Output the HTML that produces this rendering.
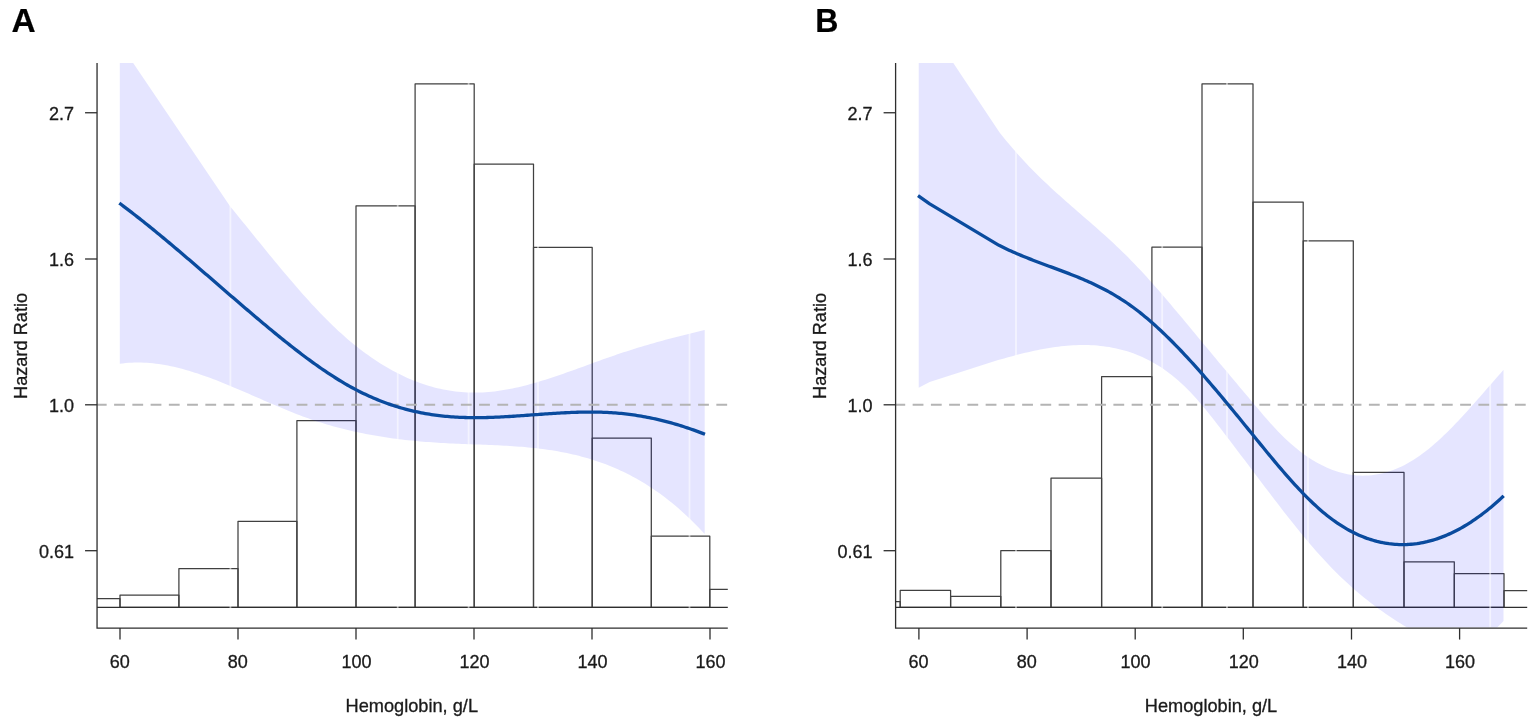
<!DOCTYPE html>
<html lang="en">
<head>
<meta charset="utf-8">
<title>Hazard Ratio by Hemoglobin</title>
<style>
html,body{margin:0;padding:0;background:#fff;}
body{width:1535px;height:723px;overflow:hidden;}
svg{display:block;font-family:"Liberation Sans",Arial,Helvetica,sans-serif;}
text{stroke:#1a1a1a;stroke-width:0.3px;}
text.t{stroke:#000;stroke-width:0.2px;}
</style>
</head>
<body>
<svg width="1535" height="723" viewBox="0 0 1535 723">
<rect width="1535" height="723" fill="#fff"/>
<clipPath id="clip1"><rect x="97.05" y="63.00" width="630.75" height="564.50"/></clipPath>
<path d="M97.00 598.70H120.00V607.35" fill="none" stroke="#404040" stroke-width="1.25" stroke-linejoin="round"/>
<rect x="120.00" y="595.10" width="58.90" height="12.25" fill="none" stroke="#404040" stroke-width="1.25" stroke-linejoin="round"/>
<rect x="178.90" y="568.60" width="59.10" height="38.75" fill="none" stroke="#404040" stroke-width="1.25" stroke-linejoin="round"/>
<rect x="238.00" y="521.30" width="58.90" height="86.05" fill="none" stroke="#404040" stroke-width="1.25" stroke-linejoin="round"/>
<rect x="296.90" y="420.60" width="59.10" height="186.75" fill="none" stroke="#404040" stroke-width="1.25" stroke-linejoin="round"/>
<rect x="356.00" y="205.90" width="59.10" height="401.45" fill="none" stroke="#404040" stroke-width="1.25" stroke-linejoin="round"/>
<rect x="415.10" y="83.90" width="59.10" height="523.45" fill="none" stroke="#404040" stroke-width="1.25" stroke-linejoin="round"/>
<rect x="474.20" y="164.10" width="59.30" height="443.25" fill="none" stroke="#404040" stroke-width="1.25" stroke-linejoin="round"/>
<rect x="533.50" y="247.40" width="58.70" height="359.95" fill="none" stroke="#404040" stroke-width="1.25" stroke-linejoin="round"/>
<rect x="592.20" y="438.00" width="59.10" height="169.35" fill="none" stroke="#404040" stroke-width="1.25" stroke-linejoin="round"/>
<rect x="651.30" y="536.20" width="58.50" height="71.15" fill="none" stroke="#404040" stroke-width="1.25" stroke-linejoin="round"/>
<path d="M709.80 607.35V589.40H727.80" fill="none" stroke="#404040" stroke-width="1.25" stroke-linejoin="round"/>
<line x1="97.05" y1="607.35" x2="727.80" y2="607.35" stroke="#2e2e2e" stroke-width="1.3"/>
<polygon clip-path="url(#clip1)" points="119.80,43.20 230.40,206.70 233.40,210.36 236.40,214.03 239.40,217.71 242.40,221.40 245.40,225.10 248.40,228.81 251.40,232.51 254.40,236.22 257.40,239.92 260.40,243.62 263.40,247.31 266.40,250.99 269.40,254.66 272.40,258.32 275.40,261.96 278.40,265.59 281.40,269.19 284.40,272.77 287.40,276.33 290.40,279.86 293.40,283.36 296.40,286.83 299.40,290.27 302.40,293.67 305.40,297.03 308.40,300.36 311.40,303.64 314.40,306.87 317.40,310.06 320.40,313.20 323.40,316.29 326.40,319.32 329.40,322.30 332.40,325.22 335.40,328.08 338.40,330.88 341.40,333.61 344.40,336.28 347.40,338.89 350.40,341.43 353.40,343.91 356.40,346.33 359.40,348.68 362.40,350.97 365.40,353.20 368.40,355.37 371.40,357.47 374.40,359.51 377.40,361.49 380.40,363.41 383.40,365.26 386.40,367.05 389.40,368.78 392.40,370.45 395.40,372.06 398.40,373.61 401.40,375.09 404.40,376.51 407.40,377.88 410.40,379.18 413.40,380.42 416.40,381.60 419.40,382.72 422.40,383.77 425.40,384.77 428.40,385.71 431.40,386.59 434.40,387.40 437.40,388.16 440.40,388.86 443.40,389.50 446.40,390.07 449.40,390.59 452.40,391.05 455.40,391.45 458.40,391.79 461.40,392.07 464.40,392.30 467.40,392.46 470.40,392.57 473.40,392.61 476.40,392.60 479.40,392.53 482.40,392.41 485.40,392.23 488.40,392.00 491.40,391.72 494.40,391.38 497.40,391.00 500.40,390.58 503.40,390.11 506.40,389.59 509.40,389.04 512.40,388.44 515.40,387.81 518.40,387.13 521.40,386.43 524.40,385.69 527.40,384.91 530.40,384.11 533.40,383.27 536.40,382.41 539.40,381.53 542.40,380.61 545.40,379.68 548.40,378.72 551.40,377.75 554.40,376.75 557.40,375.74 560.40,374.71 563.40,373.67 566.40,372.62 569.40,371.55 572.40,370.48 575.40,369.40 578.40,368.32 581.40,367.23 584.40,366.13 587.40,365.04 590.40,363.95 593.40,362.85 596.40,361.76 599.40,360.68 602.40,359.60 605.40,358.53 608.40,357.48 611.40,356.43 614.40,355.39 617.40,354.37 620.40,353.36 623.40,352.37 626.40,351.40 629.40,350.43 632.40,349.48 635.40,348.55 638.40,347.62 641.40,346.71 644.40,345.82 647.40,344.93 650.40,344.06 653.40,343.20 656.40,342.35 659.40,341.51 662.40,340.68 665.40,339.86 668.40,339.05 671.40,338.25 674.40,337.46 677.40,336.68 680.40,335.91 683.40,335.15 686.40,334.40 689.40,333.65 692.40,332.91 695.40,332.18 698.40,331.45 701.40,330.74 704.40,330.02 704.70,329.95 704.70,534.03 701.80,530.90 698.80,527.74 695.80,524.66 692.80,521.67 689.80,518.75 686.80,515.90 683.80,513.14 680.80,510.45 677.80,507.83 674.80,505.28 671.80,502.81 668.80,500.41 665.80,498.07 662.80,495.81 659.80,493.61 656.80,491.48 653.80,489.42 650.80,487.42 647.80,485.48 644.80,483.60 641.80,481.78 638.80,480.03 635.80,478.33 632.80,476.69 629.80,475.11 626.80,473.59 623.80,472.11 620.80,470.69 617.80,469.33 614.80,468.01 611.80,466.75 608.80,465.53 605.80,464.37 602.80,463.25 599.80,462.17 596.80,461.14 593.80,460.16 590.80,459.21 587.80,458.31 584.80,457.45 581.80,456.63 578.80,455.85 575.80,455.10 572.80,454.40 569.80,453.72 566.80,453.08 563.80,452.48 560.80,451.90 557.80,451.36 554.80,450.85 551.80,450.36 548.80,449.90 545.80,449.47 542.80,449.07 539.80,448.69 536.80,448.33 533.80,448.00 530.80,447.69 527.80,447.39 524.80,447.12 521.80,446.87 518.80,446.63 515.80,446.41 512.80,446.20 509.80,446.01 506.80,445.83 503.80,445.66 500.80,445.50 497.80,445.35 494.80,445.21 491.80,445.08 488.80,444.95 485.80,444.83 482.80,444.71 479.80,444.60 476.80,444.49 473.80,444.38 470.80,444.26 467.80,444.15 464.80,444.04 461.80,443.92 458.80,443.80 455.80,443.67 452.80,443.54 449.80,443.40 446.80,443.25 443.80,443.09 440.80,442.91 437.80,442.73 434.80,442.54 431.80,442.33 428.80,442.12 425.80,441.88 422.80,441.64 419.80,441.38 416.80,441.11 413.80,440.82 410.80,440.52 407.80,440.21 404.80,439.88 401.80,439.53 398.80,439.16 395.80,438.78 392.80,438.38 389.80,437.97 386.80,437.53 383.80,437.08 380.80,436.61 377.80,436.12 374.80,435.61 371.80,435.08 368.80,434.53 365.80,433.96 362.80,433.37 359.80,432.75 356.80,432.12 353.80,431.46 350.80,430.78 347.80,430.07 344.80,429.34 341.80,428.59 338.80,427.81 335.80,427.01 332.80,426.18 329.80,425.33 326.80,424.45 323.80,423.55 320.80,422.62 317.80,421.66 314.80,420.67 311.80,419.66 308.80,418.62 305.80,417.54 302.80,416.44 299.80,415.32 296.80,414.17 293.80,413.00 290.80,411.81 287.80,410.59 284.80,409.37 281.80,408.12 278.80,406.86 275.80,405.59 272.80,404.31 269.80,403.02 266.80,401.72 263.80,400.41 260.80,399.10 257.80,397.79 254.80,396.48 251.80,395.17 248.80,393.86 245.80,392.55 242.80,391.25 239.80,389.96 236.80,388.68 233.80,387.41 230.80,386.15 227.80,384.91 224.80,383.68 221.80,382.47 218.80,381.28 215.80,380.11 212.80,378.96 209.80,377.84 206.80,376.74 203.80,375.67 200.80,374.63 197.80,373.62 194.80,372.65 191.80,371.70 188.80,370.80 185.80,369.93 182.80,369.10 179.80,368.31 176.80,367.57 173.80,366.87 170.80,366.21 167.80,365.61 164.80,365.05 161.80,364.54 158.80,364.09 155.80,363.69 152.80,363.35 149.80,363.06 146.80,362.84 143.80,362.67 140.80,362.57 137.80,362.53 134.80,362.56 131.80,362.66 128.80,362.83 125.80,363.06 122.80,363.38 119.80,363.76" fill="rgba(0,0,255,0.10)"/>
<line x1="230.40" y1="63.00" x2="230.40" y2="627.50" stroke="#fff" stroke-opacity="0.55" stroke-width="1.8"/>
<line x1="397.70" y1="63.00" x2="397.70" y2="627.50" stroke="#fff" stroke-opacity="0.55" stroke-width="1.8"/>
<line x1="468.60" y1="63.00" x2="468.60" y2="627.50" stroke="#fff" stroke-opacity="0.55" stroke-width="1.8"/>
<line x1="538.00" y1="63.00" x2="538.00" y2="627.50" stroke="#fff" stroke-opacity="0.55" stroke-width="1.8"/>
<line x1="689.50" y1="63.00" x2="689.50" y2="627.50" stroke="#fff" stroke-opacity="0.55" stroke-width="1.8"/>
<line x1="97.05" y1="404.80" x2="727.80" y2="404.80" stroke="#b4b4b4" stroke-width="2" stroke-dasharray="10.8 7.45" stroke-dashoffset="1.2"/>
<polyline points="119.30,203.06 121.30,204.55 123.30,206.06 125.30,207.57 127.30,209.09 129.30,210.62 131.30,212.16 133.30,213.71 135.30,215.27 137.30,216.84 139.30,218.41 141.30,219.99 143.30,221.58 145.30,223.18 147.30,224.79 149.30,226.40 151.30,228.02 153.30,229.65 155.30,231.28 157.30,232.92 159.30,234.57 161.30,236.22 163.30,237.88 165.30,239.54 167.30,241.21 169.30,242.88 171.30,244.56 173.30,246.24 175.30,247.93 177.30,249.62 179.30,251.32 181.30,253.02 183.30,254.72 185.30,256.43 187.30,258.14 189.30,259.85 191.30,261.57 193.30,263.29 195.30,265.01 197.30,266.73 199.30,268.45 201.30,270.18 203.30,271.91 205.30,273.64 207.30,275.37 209.30,277.10 211.30,278.83 213.30,280.56 215.30,282.30 217.30,284.03 219.30,285.76 221.30,287.49 223.30,289.23 225.30,290.96 227.30,292.69 229.30,294.42 231.30,296.14 233.30,297.87 235.30,299.59 237.30,301.31 239.30,303.03 241.30,304.75 243.30,306.46 245.30,308.18 247.30,309.88 249.30,311.59 251.30,313.29 253.30,314.99 255.30,316.68 257.30,318.37 259.30,320.06 261.30,321.74 263.30,323.41 265.30,325.08 267.30,326.75 269.30,328.41 271.30,330.06 273.30,331.71 275.30,333.35 277.30,334.99 279.30,336.62 281.30,338.24 283.30,339.85 285.30,341.46 287.30,343.05 289.30,344.64 291.30,346.22 293.30,347.78 295.30,349.34 297.30,350.89 299.30,352.43 301.30,353.95 303.30,355.46 305.30,356.96 307.30,358.45 309.30,359.93 311.30,361.39 313.30,362.84 315.30,364.27 317.30,365.69 319.30,367.09 321.30,368.48 323.30,369.85 325.30,371.21 327.30,372.55 329.30,373.87 331.30,375.18 333.30,376.47 335.30,377.74 337.30,378.99 339.30,380.22 341.30,381.44 343.30,382.63 345.30,383.80 347.30,384.96 349.30,386.09 351.30,387.20 353.30,388.29 355.30,389.36 357.30,390.40 359.30,391.42 361.30,392.42 363.30,393.40 365.30,394.35 367.30,395.29 369.30,396.20 371.30,397.09 373.30,397.96 375.30,398.81 377.30,399.63 379.30,400.44 381.30,401.22 383.30,401.99 385.30,402.73 387.30,403.46 389.30,404.16 391.30,404.84 393.30,405.51 395.30,406.15 397.30,406.77 399.30,407.38 401.30,407.96 403.30,408.53 405.30,409.08 407.30,409.61 409.30,410.12 411.30,410.61 413.30,411.08 415.30,411.54 417.30,411.97 419.30,412.39 421.30,412.79 423.30,413.18 425.30,413.55 427.30,413.89 429.30,414.23 431.30,414.54 433.30,414.84 435.30,415.12 437.30,415.39 439.30,415.64 441.30,415.87 443.30,416.09 445.30,416.29 447.30,416.48 449.30,416.65 451.30,416.80 453.30,416.95 455.30,417.07 457.30,417.19 459.30,417.29 461.30,417.37 463.30,417.45 465.30,417.51 467.30,417.56 469.30,417.60 471.30,417.63 473.30,417.64 475.30,417.65 477.30,417.65 479.30,417.63 481.30,417.61 483.30,417.58 485.30,417.53 487.30,417.49 489.30,417.43 491.30,417.36 493.30,417.29 495.30,417.21 497.30,417.12 499.30,417.03 501.30,416.93 503.30,416.83 505.30,416.72 507.30,416.60 509.30,416.48 511.30,416.36 513.30,416.23 515.30,416.10 517.30,415.97 519.30,415.83 521.30,415.69 523.30,415.55 525.30,415.41 527.30,415.26 529.30,415.12 531.30,414.97 533.30,414.83 535.30,414.68 537.30,414.53 539.30,414.39 541.30,414.25 543.30,414.10 545.30,413.96 547.30,413.83 549.30,413.69 551.30,413.56 553.30,413.43 555.30,413.30 557.30,413.18 559.30,413.06 561.30,412.95 563.30,412.84 565.30,412.74 567.30,412.64 569.30,412.55 571.30,412.47 573.30,412.39 575.30,412.32 577.30,412.26 579.30,412.20 581.30,412.15 583.30,412.11 585.30,412.09 587.30,412.07 589.30,412.05 591.30,412.05 593.30,412.06 595.30,412.08 597.30,412.12 599.30,412.16 601.30,412.21 603.30,412.28 605.30,412.36 607.30,412.45 609.30,412.56 611.30,412.67 613.30,412.81 615.30,412.95 617.30,413.12 619.30,413.29 621.30,413.48 623.30,413.69 625.30,413.91 627.30,414.14 629.30,414.39 631.30,414.65 633.30,414.93 635.30,415.22 637.30,415.53 639.30,415.85 641.30,416.19 643.30,416.54 645.30,416.90 647.30,417.28 649.30,417.68 651.30,418.09 653.30,418.51 655.30,418.94 657.30,419.40 659.30,419.86 661.30,420.34 663.30,420.83 665.30,421.34 667.30,421.86 669.30,422.40 671.30,422.95 673.30,423.52 675.30,424.09 677.30,424.69 679.30,425.29 681.30,425.91 683.30,426.55 685.30,427.20 687.30,427.86 689.30,428.54 691.30,429.23 693.30,429.93 695.30,430.65 697.30,431.38 699.30,432.13 701.30,432.89 703.30,433.66 705.00,434.33" fill="none" stroke="#0a4b9e" stroke-width="3.3" stroke-linejoin="round"/>
<path d="M97.05 63.00V628.05H727.80" fill="none" stroke="#2e2e2e" stroke-width="1.3"/>
<line x1="85.05" y1="112.75" x2="97.05" y2="112.75" stroke="#2e2e2e" stroke-width="1.3"/>
<text x="74.05" y="119.65" text-anchor="end" font-size="18" fill="#1a1a1a">2.7</text>
<line x1="85.05" y1="259.00" x2="97.05" y2="259.00" stroke="#2e2e2e" stroke-width="1.3"/>
<text x="74.05" y="265.90" text-anchor="end" font-size="18" fill="#1a1a1a">1.6</text>
<line x1="85.05" y1="404.80" x2="97.05" y2="404.80" stroke="#2e2e2e" stroke-width="1.3"/>
<text x="74.05" y="411.70" text-anchor="end" font-size="18" fill="#1a1a1a">1.0</text>
<line x1="85.05" y1="550.70" x2="97.05" y2="550.70" stroke="#2e2e2e" stroke-width="1.3"/>
<text x="74.05" y="557.60" text-anchor="end" font-size="18" fill="#1a1a1a">0.61</text>
<line x1="120.00" y1="628.05" x2="120.00" y2="639.55" stroke="#2e2e2e" stroke-width="1.3"/>
<text x="119.70" y="667.50" text-anchor="middle" font-size="18" fill="#1a1a1a">60</text>
<line x1="238.00" y1="628.05" x2="238.00" y2="639.55" stroke="#2e2e2e" stroke-width="1.3"/>
<text x="237.70" y="667.50" text-anchor="middle" font-size="18" fill="#1a1a1a">80</text>
<line x1="356.00" y1="628.05" x2="356.00" y2="639.55" stroke="#2e2e2e" stroke-width="1.3"/>
<text x="356.40" y="667.50" text-anchor="middle" font-size="18" fill="#1a1a1a">100</text>
<line x1="474.00" y1="628.05" x2="474.00" y2="639.55" stroke="#2e2e2e" stroke-width="1.3"/>
<text x="474.40" y="667.50" text-anchor="middle" font-size="18" fill="#1a1a1a">120</text>
<line x1="592.00" y1="628.05" x2="592.00" y2="639.55" stroke="#2e2e2e" stroke-width="1.3"/>
<text x="592.40" y="667.50" text-anchor="middle" font-size="18" fill="#1a1a1a">140</text>
<line x1="710.00" y1="628.05" x2="710.00" y2="639.55" stroke="#2e2e2e" stroke-width="1.3"/>
<text x="710.40" y="667.50" text-anchor="middle" font-size="18" fill="#1a1a1a">160</text>
<text x="411.80" y="711.50" text-anchor="middle" font-size="18.2" fill="#1a1a1a">Hemoglobin, g/L</text>
<text transform="translate(26.50,345.90) rotate(-90)" text-anchor="middle" font-size="18.2" fill="#1a1a1a">Hazard Ratio</text>
<text transform="translate(11.40,32.00) scale(0.990,1)" class="t" font-size="33.8" font-weight="bold" fill="#000">A</text>
<clipPath id="clip2"><rect x="895.60" y="63.00" width="631.60" height="564.50"/></clipPath>
<path d="M895.60 601.60H900.20V607.35" fill="none" stroke="#404040" stroke-width="1.25" stroke-linejoin="round"/>
<rect x="900.20" y="590.40" width="50.40" height="16.95" fill="none" stroke="#404040" stroke-width="1.25" stroke-linejoin="round"/>
<rect x="950.60" y="596.30" width="50.20" height="11.05" fill="none" stroke="#404040" stroke-width="1.25" stroke-linejoin="round"/>
<rect x="1000.80" y="550.50" width="50.20" height="56.85" fill="none" stroke="#404040" stroke-width="1.25" stroke-linejoin="round"/>
<rect x="1051.00" y="478.10" width="50.60" height="129.25" fill="none" stroke="#404040" stroke-width="1.25" stroke-linejoin="round"/>
<rect x="1101.60" y="376.60" width="50.30" height="230.75" fill="none" stroke="#404040" stroke-width="1.25" stroke-linejoin="round"/>
<rect x="1151.90" y="247.20" width="50.10" height="360.15" fill="none" stroke="#404040" stroke-width="1.25" stroke-linejoin="round"/>
<rect x="1202.00" y="83.90" width="51.00" height="523.45" fill="none" stroke="#404040" stroke-width="1.25" stroke-linejoin="round"/>
<rect x="1253.00" y="202.00" width="50.20" height="405.35" fill="none" stroke="#404040" stroke-width="1.25" stroke-linejoin="round"/>
<rect x="1303.20" y="240.80" width="50.10" height="366.55" fill="none" stroke="#404040" stroke-width="1.25" stroke-linejoin="round"/>
<rect x="1353.30" y="472.40" width="50.70" height="134.95" fill="none" stroke="#404040" stroke-width="1.25" stroke-linejoin="round"/>
<rect x="1404.00" y="561.80" width="50.30" height="45.55" fill="none" stroke="#404040" stroke-width="1.25" stroke-linejoin="round"/>
<rect x="1454.30" y="573.70" width="49.70" height="33.65" fill="none" stroke="#404040" stroke-width="1.25" stroke-linejoin="round"/>
<path d="M1504.00 607.35V590.70H1527.20" fill="none" stroke="#404040" stroke-width="1.25" stroke-linejoin="round"/>
<line x1="895.60" y1="607.35" x2="1527.20" y2="607.35" stroke="#2e2e2e" stroke-width="1.3"/>
<polygon clip-path="url(#clip2)" points="918.70,10.00 930.00,28.00 999.60,132.40 1002.60,136.21 1005.60,139.93 1008.60,143.56 1011.60,147.12 1014.60,150.59 1017.60,153.99 1020.60,157.32 1023.60,160.58 1026.60,163.77 1029.60,166.90 1032.60,169.98 1035.60,173.00 1038.60,175.97 1041.60,178.89 1044.60,181.76 1047.60,184.60 1050.60,187.40 1053.60,190.16 1056.60,192.89 1059.60,195.59 1062.60,198.27 1065.60,200.93 1068.60,203.57 1071.60,206.20 1074.60,208.81 1077.60,211.42 1080.60,214.02 1083.60,216.63 1086.60,219.23 1089.60,221.84 1092.60,224.46 1095.60,227.10 1098.60,229.74 1101.60,232.41 1104.60,235.10 1107.60,237.82 1110.60,240.57 1113.60,243.35 1116.60,246.17 1119.60,249.02 1122.60,251.92 1125.60,254.87 1128.60,257.86 1131.60,260.91 1134.60,264.01 1137.60,267.16 1140.60,270.35 1143.60,273.59 1146.60,276.87 1149.60,280.19 1152.60,283.55 1155.60,286.94 1158.60,290.36 1161.60,293.82 1164.60,297.30 1167.60,300.80 1170.60,304.33 1173.60,307.88 1176.60,311.44 1179.60,315.02 1182.60,318.61 1185.60,322.21 1188.60,325.82 1191.60,329.44 1194.60,333.05 1197.60,336.67 1200.60,340.29 1203.60,343.90 1206.60,347.51 1209.60,351.11 1212.60,354.70 1215.60,358.29 1218.60,361.88 1221.60,365.46 1224.60,369.04 1227.60,372.62 1230.60,376.20 1233.60,379.77 1236.60,383.34 1239.60,386.91 1242.60,390.48 1245.60,394.05 1248.60,397.62 1251.60,401.19 1254.60,404.76 1257.60,408.32 1260.60,411.87 1263.60,415.38 1266.60,418.84 1269.60,422.24 1272.60,425.58 1275.60,428.82 1278.60,431.96 1281.60,435.00 1284.60,437.93 1287.60,440.75 1290.60,443.46 1293.60,446.06 1296.60,448.55 1299.60,450.94 1302.60,453.21 1305.60,455.38 1308.60,457.43 1311.60,459.38 1314.60,461.22 1317.60,462.95 1320.60,464.56 1323.60,466.07 1326.60,467.47 1329.60,468.76 1332.60,469.94 1335.60,471.00 1338.60,471.96 1341.60,472.81 1344.60,473.54 1347.60,474.17 1350.60,474.68 1353.60,475.09 1356.60,475.38 1359.60,475.56 1362.60,475.63 1365.60,475.59 1368.60,475.44 1371.60,475.18 1374.60,474.80 1377.60,474.32 1380.60,473.72 1383.60,473.01 1386.60,472.18 1389.60,471.25 1392.60,470.20 1395.60,469.05 1398.60,467.78 1401.60,466.39 1404.60,464.90 1407.60,463.29 1410.60,461.57 1413.60,459.73 1416.60,457.79 1419.60,455.73 1422.60,453.55 1425.60,451.27 1428.60,448.89 1431.60,446.40 1434.60,443.82 1437.60,441.15 1440.60,438.40 1443.60,435.57 1446.60,432.66 1449.60,429.68 1452.60,426.64 1455.60,423.54 1458.60,420.38 1461.60,417.18 1464.60,413.92 1467.60,410.63 1470.60,407.30 1473.60,403.94 1476.60,400.56 1479.60,397.15 1482.60,393.73 1485.60,390.29 1488.60,386.85 1491.60,383.41 1494.60,379.98 1497.60,376.55 1500.60,373.13 1503.50,369.84 1503.50,620.93 1502.20,622.39 1499.20,625.56 1496.20,628.47 1493.20,631.11 1490.20,633.50 1487.20,635.65 1484.20,637.55 1481.20,639.23 1478.20,640.67 1475.20,641.91 1472.20,642.93 1469.20,643.75 1466.20,644.37 1463.20,644.81 1460.20,645.06 1457.20,645.14 1454.20,645.06 1451.20,644.81 1448.20,644.42 1445.20,643.87 1442.20,643.19 1439.20,642.38 1436.20,641.45 1433.20,640.40 1430.20,639.24 1427.20,637.99 1424.20,636.63 1421.20,635.19 1418.20,633.67 1415.20,632.08 1412.20,630.42 1409.20,628.71 1406.20,626.94 1403.20,625.13 1400.20,623.28 1397.20,621.40 1394.20,619.47 1391.20,617.50 1388.20,615.48 1385.20,613.42 1382.20,611.32 1379.20,609.17 1376.20,606.97 1373.20,604.72 1370.20,602.42 1367.20,600.07 1364.20,597.67 1361.20,595.21 1358.20,592.70 1355.20,590.13 1352.20,587.51 1349.20,584.83 1346.20,582.08 1343.20,579.28 1340.20,576.41 1337.20,573.49 1334.20,570.49 1331.20,567.43 1328.20,564.31 1325.20,561.11 1322.20,557.86 1319.20,554.54 1316.20,551.16 1313.20,547.72 1310.20,544.23 1307.20,540.69 1304.20,537.10 1301.20,533.47 1298.20,529.80 1295.20,526.08 1292.20,522.33 1289.20,518.54 1286.20,514.73 1283.20,510.88 1280.20,507.01 1277.20,503.12 1274.20,499.21 1271.20,495.28 1268.20,491.33 1265.20,487.38 1262.20,483.42 1259.20,479.45 1256.20,475.47 1253.20,471.50 1250.20,467.53 1247.20,463.57 1244.20,459.60 1241.20,455.64 1238.20,451.68 1235.20,447.73 1232.20,443.78 1229.20,439.83 1226.20,435.89 1223.20,431.95 1220.20,428.03 1217.20,424.14 1214.20,420.29 1211.20,416.48 1208.20,412.74 1205.20,409.07 1202.20,405.48 1199.20,401.98 1196.20,398.58 1193.20,395.29 1190.20,392.10 1187.20,389.03 1184.20,386.08 1181.20,383.26 1178.20,380.56 1175.20,377.98 1172.20,375.53 1169.20,373.19 1166.20,370.97 1163.20,368.86 1160.20,366.86 1157.20,364.96 1154.20,363.18 1151.20,361.49 1148.20,359.90 1145.20,358.41 1142.20,357.02 1139.20,355.71 1136.20,354.50 1133.20,353.37 1130.20,352.32 1127.20,351.36 1124.20,350.47 1121.20,349.66 1118.20,348.92 1115.20,348.25 1112.20,347.65 1109.20,347.11 1106.20,346.64 1103.20,346.23 1100.20,345.88 1097.20,345.59 1094.20,345.37 1091.20,345.19 1088.20,345.08 1085.20,345.02 1082.20,345.01 1079.20,345.05 1076.20,345.14 1073.20,345.28 1070.20,345.47 1067.20,345.70 1064.20,345.97 1061.20,346.29 1058.20,346.65 1055.20,347.04 1052.20,347.48 1049.20,347.95 1046.20,348.46 1043.20,349.00 1040.20,349.57 1037.20,350.17 1034.20,350.80 1031.20,351.46 1028.20,352.15 1025.20,352.86 1022.20,353.59 1019.20,354.34 1016.20,355.12 1013.20,355.91 1010.20,356.72 1007.20,357.54 1004.20,358.38 1001.20,359.24 998.20,360.10 929.70,382.00 918.70,387.80" fill="rgba(0,0,255,0.10)"/>
<line x1="1016.00" y1="63.00" x2="1016.00" y2="627.50" stroke="#fff" stroke-opacity="0.55" stroke-width="1.8"/>
<line x1="1162.20" y1="63.00" x2="1162.20" y2="627.50" stroke="#fff" stroke-opacity="0.55" stroke-width="1.8"/>
<line x1="1227.00" y1="63.00" x2="1227.00" y2="627.50" stroke="#fff" stroke-opacity="0.55" stroke-width="1.8"/>
<line x1="1308.00" y1="63.00" x2="1308.00" y2="627.50" stroke="#fff" stroke-opacity="0.55" stroke-width="1.8"/>
<line x1="1490.20" y1="63.00" x2="1490.20" y2="627.50" stroke="#fff" stroke-opacity="0.55" stroke-width="1.8"/>
<line x1="895.60" y1="404.80" x2="1527.20" y2="404.80" stroke="#b4b4b4" stroke-width="2" stroke-dasharray="10.8 7.45" stroke-dashoffset="1.2"/>
<polyline points="918.00,195.60 929.70,203.90 999.00,245.30 1001.00,246.31 1003.00,247.30 1005.00,248.27 1007.00,249.22 1009.00,250.15 1011.00,251.06 1013.00,251.96 1015.00,252.84 1017.00,253.71 1019.00,254.56 1021.00,255.39 1023.00,256.22 1025.00,257.03 1027.00,257.83 1029.00,258.63 1031.00,259.41 1033.00,260.18 1035.00,260.95 1037.00,261.71 1039.00,262.46 1041.00,263.21 1043.00,263.96 1045.00,264.70 1047.00,265.44 1049.00,266.18 1051.00,266.91 1053.00,267.65 1055.00,268.39 1057.00,269.13 1059.00,269.87 1061.00,270.62 1063.00,271.37 1065.00,272.13 1067.00,272.89 1069.00,273.66 1071.00,274.44 1073.00,275.23 1075.00,276.03 1077.00,276.83 1079.00,277.65 1081.00,278.49 1083.00,279.33 1085.00,280.19 1087.00,281.06 1089.00,281.95 1091.00,282.86 1093.00,283.78 1095.00,284.73 1097.00,285.69 1099.00,286.67 1101.00,287.67 1103.00,288.70 1105.00,289.74 1107.00,290.81 1109.00,291.91 1111.00,293.03 1113.00,294.18 1115.00,295.35 1117.00,296.55 1119.00,297.78 1121.00,299.04 1123.00,300.33 1125.00,301.65 1127.00,303.01 1129.00,304.39 1131.00,305.81 1133.00,307.27 1135.00,308.75 1137.00,310.27 1139.00,311.82 1141.00,313.41 1143.00,315.02 1145.00,316.66 1147.00,318.33 1149.00,320.04 1151.00,321.77 1153.00,323.52 1155.00,325.31 1157.00,327.12 1159.00,328.96 1161.00,330.82 1163.00,332.71 1165.00,334.63 1167.00,336.57 1169.00,338.53 1171.00,340.51 1173.00,342.52 1175.00,344.55 1177.00,346.60 1179.00,348.67 1181.00,350.76 1183.00,352.87 1185.00,355.01 1187.00,357.16 1189.00,359.32 1191.00,361.51 1193.00,363.71 1195.00,365.93 1197.00,368.17 1199.00,370.42 1201.00,372.68 1203.00,374.96 1205.00,377.25 1207.00,379.56 1209.00,381.88 1211.00,384.21 1213.00,386.56 1215.00,388.91 1217.00,391.27 1219.00,393.65 1221.00,396.03 1223.00,398.43 1225.00,400.83 1227.00,403.24 1229.00,405.65 1231.00,408.08 1233.00,410.51 1235.00,412.94 1237.00,415.38 1239.00,417.83 1241.00,420.28 1243.00,422.73 1245.00,425.18 1247.00,427.64 1249.00,430.10 1251.00,432.56 1253.00,435.02 1255.00,437.48 1257.00,439.94 1259.00,442.40 1261.00,444.86 1263.00,447.30 1265.00,449.75 1267.00,452.18 1269.00,454.61 1271.00,457.03 1273.00,459.43 1275.00,461.82 1277.00,464.20 1279.00,466.56 1281.00,468.91 1283.00,471.24 1285.00,473.55 1287.00,475.84 1289.00,478.11 1291.00,480.35 1293.00,482.58 1295.00,484.77 1297.00,486.94 1299.00,489.08 1301.00,491.20 1303.00,493.28 1305.00,495.33 1307.00,497.34 1309.00,499.33 1311.00,501.28 1313.00,503.19 1315.00,505.06 1317.00,506.89 1319.00,508.68 1321.00,510.44 1323.00,512.14 1325.00,513.81 1327.00,515.42 1329.00,516.99 1331.00,518.52 1333.00,520.00 1335.00,521.43 1337.00,522.82 1339.00,524.16 1341.00,525.46 1343.00,526.71 1345.00,527.92 1347.00,529.08 1349.00,530.20 1351.00,531.28 1353.00,532.31 1355.00,533.30 1357.00,534.25 1359.00,535.15 1361.00,536.01 1363.00,536.83 1365.00,537.60 1367.00,538.34 1369.00,539.03 1371.00,539.68 1373.00,540.29 1375.00,540.86 1377.00,541.39 1379.00,541.87 1381.00,542.32 1383.00,542.73 1385.00,543.09 1387.00,543.42 1389.00,543.71 1391.00,543.95 1393.00,544.16 1395.00,544.33 1397.00,544.46 1399.00,544.55 1401.00,544.59 1403.00,544.60 1405.00,544.57 1407.00,544.51 1409.00,544.40 1411.00,544.25 1413.00,544.07 1415.00,543.84 1417.00,543.58 1419.00,543.27 1421.00,542.93 1423.00,542.55 1425.00,542.13 1427.00,541.68 1429.00,541.18 1431.00,540.65 1433.00,540.08 1435.00,539.47 1437.00,538.82 1439.00,538.13 1441.00,537.41 1443.00,536.65 1445.00,535.85 1447.00,535.01 1449.00,534.13 1451.00,533.22 1453.00,532.27 1455.00,531.28 1457.00,530.26 1459.00,529.19 1461.00,528.09 1463.00,526.96 1465.00,525.78 1467.00,524.57 1469.00,523.32 1471.00,522.04 1473.00,520.71 1475.00,519.35 1477.00,517.96 1479.00,516.53 1481.00,515.06 1483.00,513.55 1485.00,512.01 1487.00,510.43 1489.00,508.82 1491.00,507.17 1493.00,505.48 1495.00,503.76 1497.00,502.00 1499.00,500.21 1501.00,498.38 1503.00,496.51 1503.70,495.85" fill="none" stroke="#0a4b9e" stroke-width="3.3" stroke-linejoin="round"/>
<path d="M895.60 63.00V628.05H1527.20" fill="none" stroke="#2e2e2e" stroke-width="1.3"/>
<line x1="883.60" y1="112.75" x2="895.60" y2="112.75" stroke="#2e2e2e" stroke-width="1.3"/>
<text x="872.60" y="119.65" text-anchor="end" font-size="18" fill="#1a1a1a">2.7</text>
<line x1="883.60" y1="259.00" x2="895.60" y2="259.00" stroke="#2e2e2e" stroke-width="1.3"/>
<text x="872.60" y="265.90" text-anchor="end" font-size="18" fill="#1a1a1a">1.6</text>
<line x1="883.60" y1="404.80" x2="895.60" y2="404.80" stroke="#2e2e2e" stroke-width="1.3"/>
<text x="872.60" y="411.70" text-anchor="end" font-size="18" fill="#1a1a1a">1.0</text>
<line x1="883.60" y1="550.70" x2="895.60" y2="550.70" stroke="#2e2e2e" stroke-width="1.3"/>
<text x="872.60" y="557.60" text-anchor="end" font-size="18" fill="#1a1a1a">0.61</text>
<line x1="918.90" y1="628.05" x2="918.90" y2="639.55" stroke="#2e2e2e" stroke-width="1.3"/>
<text x="918.60" y="667.50" text-anchor="middle" font-size="18" fill="#1a1a1a">60</text>
<line x1="1027.10" y1="628.05" x2="1027.10" y2="639.55" stroke="#2e2e2e" stroke-width="1.3"/>
<text x="1026.80" y="667.50" text-anchor="middle" font-size="18" fill="#1a1a1a">80</text>
<line x1="1135.20" y1="628.05" x2="1135.20" y2="639.55" stroke="#2e2e2e" stroke-width="1.3"/>
<text x="1135.60" y="667.50" text-anchor="middle" font-size="18" fill="#1a1a1a">100</text>
<line x1="1243.30" y1="628.05" x2="1243.30" y2="639.55" stroke="#2e2e2e" stroke-width="1.3"/>
<text x="1243.70" y="667.50" text-anchor="middle" font-size="18" fill="#1a1a1a">120</text>
<line x1="1351.50" y1="628.05" x2="1351.50" y2="639.55" stroke="#2e2e2e" stroke-width="1.3"/>
<text x="1351.90" y="667.50" text-anchor="middle" font-size="18" fill="#1a1a1a">140</text>
<line x1="1459.60" y1="628.05" x2="1459.60" y2="639.55" stroke="#2e2e2e" stroke-width="1.3"/>
<text x="1460.00" y="667.50" text-anchor="middle" font-size="18" fill="#1a1a1a">160</text>
<text x="1211.00" y="711.50" text-anchor="middle" font-size="18.2" fill="#1a1a1a">Hemoglobin, g/L</text>
<text transform="translate(825.60,345.90) rotate(-90)" text-anchor="middle" font-size="18.2" fill="#1a1a1a">Hazard Ratio</text>
<text transform="translate(815.30,32.00) scale(0.950,1)" class="t" font-size="33.8" font-weight="bold" fill="#000">B</text>
</svg>
</body>
</html>
